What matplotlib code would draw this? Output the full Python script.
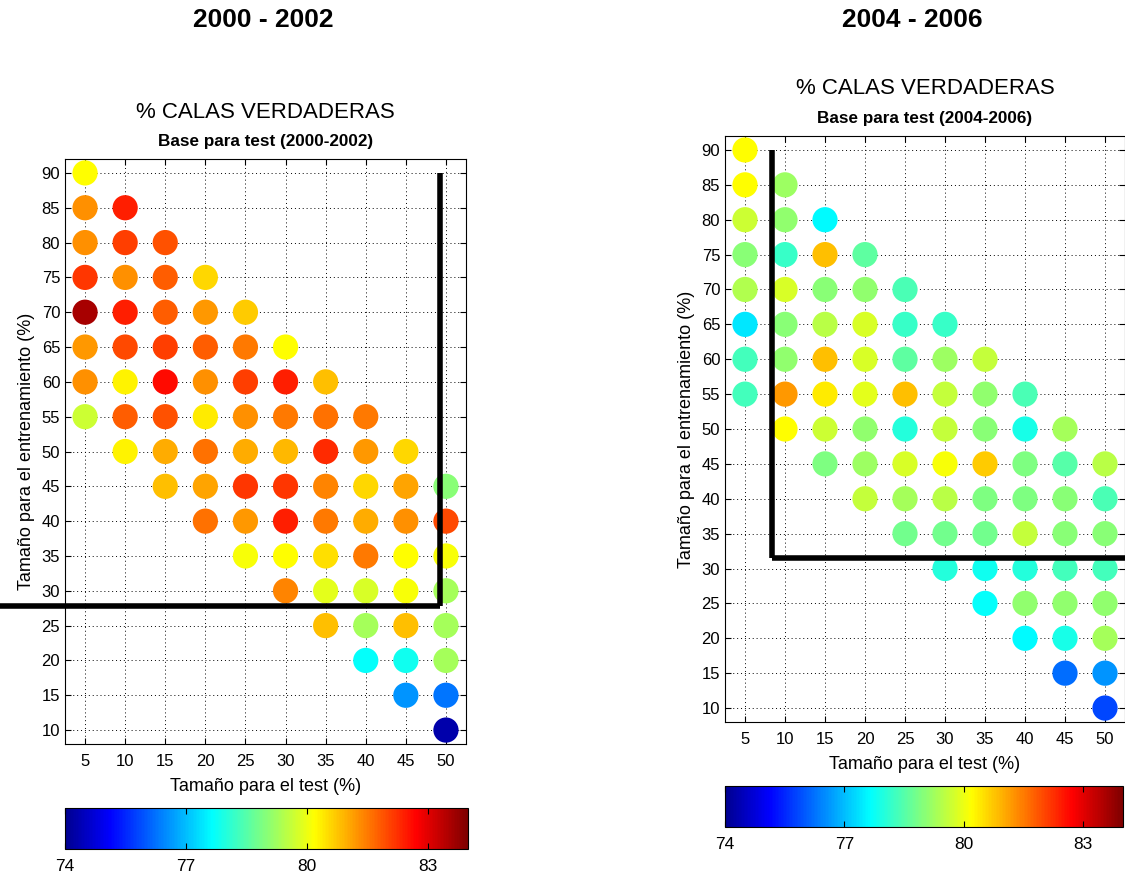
import numpy as np
import matplotlib
matplotlib.use("Agg")
import matplotlib.pyplot as plt
from matplotlib.cm import ScalarMappable
from matplotlib.colors import Normalize, LinearSegmentedColormap

plt.rcParams['font.family'] = ['Liberation Sans', 'DejaVu Sans']

# ---------------- data ----------------
test_sizes = [5, 10, 15, 20, 25, 30, 35, 40, 45, 50]
# top train size for each test-size column; each column holds 8 points spaced by 5
column_top_train = [90, 85, 80, 75, 70, 65, 60, 55, 50, 45]
y_ticks = [10, 15, 20, 25, 30, 35, 40, 45, 50, 55, 60, 65, 70, 75, 80, 85, 90]
cbar_ticks = [74, 77, 80, 83]
vmin, vmax = 74, 84

# % true hauls, per column (test size), from top train size downwards
vals_2000 = [
    [80.2, 81.3, 81.3, 82.2, 83.6, 81.2, 81.3, 79.7],   # test 5
    [82.4, 82.1, 81.3, 82.4, 82.0, 80.3, 81.8, 80.3],   # test 10
    [81.9, 81.8, 81.8, 82.1, 82.6, 81.9, 81.0, 80.8],   # test 15
    [80.6, 81.2, 81.8, 81.3, 80.4, 81.6, 81.1, 81.6],   # test 20
    [80.7, 81.5, 82.1, 81.3, 81.0, 82.2, 81.2, 80.1],   # test 25
    [80.2, 82.4, 81.5, 80.9, 82.2, 82.4, 80.2, 81.4],   # test 30
    [80.8, 81.6, 82.3, 81.4, 81.5, 80.5, 79.9, 80.8],   # test 35
    [81.5, 81.2, 80.6, 81.0, 81.5, 79.8, 79.3, 77.7],   # test 40
    [80.6, 81.1, 81.3, 80.2, 80.1, 80.8, 77.8, 76.6],   # test 45
    [79.0, 82.0, 80.1, 79.3, 79.3, 79.3, 76.3, 74.3],   # test 50
]
vals_2004 = [
    [80.2, 80.2, 79.7, 79.0, 79.4, 77.4, 78.3, 78.3],   # test 5
    [79.2, 79.1, 78.2, 79.8, 79.0, 79.1, 81.2, 80.2],   # test 10
    [77.6, 80.8, 79.0, 79.5, 80.8, 80.4, 79.7, 78.9],   # test 15
    [78.6, 79.1, 79.8, 79.8, 79.9, 79.1, 79.2, 79.6],   # test 20
    [78.4, 78.2, 78.6, 80.8, 78.0, 79.8, 79.3, 78.8],   # test 25
    [78.2, 79.2, 79.6, 79.6, 80.1, 79.5, 78.8, 78.0],   # test 30
    [79.6, 79.1, 79.0, 80.7, 78.9, 78.8, 77.8, 77.7],   # test 35
    [78.4, 77.9, 78.9, 78.9, 79.6, 78.0, 79.1, 77.6],   # test 40
    [79.3, 78.5, 79.0, 79.0, 78.3, 79.1, 77.9, 76.2],   # test 45
    [79.5, 78.4, 79.0, 78.3, 79.1, 79.3, 76.6, 75.8],   # test 50
]


def matlab_jet(m=64):
    n = int(np.ceil(m / 4))
    u = np.concatenate([np.arange(1, n + 1) / n, np.ones(n - 1), np.arange(n, 0, -1) / n])
    g = int(np.ceil(n / 2)) - (1 if m % 4 == 1 else 0) + np.arange(1, len(u) + 1)
    r = g + n
    b = g - n
    J = np.zeros((m, 3))
    for idx, c in ((r, 0), (g, 1), (b, 2)):
        ok = (idx >= 1) & (idx <= m)
        J[idx[ok] - 1, c] = u[ok]
    return LinearSegmentedColormap.from_list('matlab_jet', J, N=256)


# ---------------- figure ----------------
W, H = 1125, 874
fig = plt.figure(figsize=(W / 100, H / 100), dpi=100)
norm = Normalize(vmin=vmin, vmax=vmax)
cmap = matlab_jet(64)


def px_axes(l, t, r, b):
    return fig.add_axes([l / W, 1 - b / H, (r - l) / W, (b - t) / H])


def panel(ax, vals, base_label, vline, hline):
    xs, ys, cs = [], [], []
    for tsize, top, col in zip(test_sizes, column_top_train, vals):
        for k, v in enumerate(col):
            xs.append(tsize)
            ys.append(top - 5 * k)
            cs.append(v)
    ax.scatter(xs, ys, c=cs, cmap=cmap, norm=norm, s=330, edgecolors='none', zorder=3)
    ax.set_xlim(2.5, 52.5)
    ax.set_ylim(8, 92)
    ax.set_xticks(test_sizes)
    ax.set_yticks(y_ticks)
    ax.grid(True, linestyle=(0, (1, 3)), color='black', linewidth=0.7)
    ax.set_axisbelow(True)
    ax.tick_params(direction='in', top=True, right=True, labelsize=12, length=4)
    ax.tick_params(axis='x', pad=7)
    ax.set_xlabel('Tamaño para el test (%)', fontsize=13, labelpad=7)
    ax.set_ylabel('Tamaño para el entrenamiento (%)', fontsize=13, labelpad=5)
    hpx = ax.get_position().height * H
    ax.text(0.5, 1 + 47 / hpx, '% CALAS VERDADERAS', transform=ax.transAxes,
            ha='center', va='center', fontsize=16)
    ax.text(0.5, 1 + 18 / hpx, base_label, transform=ax.transAxes,
            ha='center', va='center', fontsize=12.3, fontweight='bold')
    ax.plot(*vline, color='black', lw=4, zorder=4, clip_on=False, solid_capstyle='butt')
    ax.plot(*hline, color='black', lw=4, zorder=4, clip_on=False, solid_capstyle='butt')


def cbar(cax):
    cb = fig.colorbar(ScalarMappable(norm=norm, cmap=cmap), cax=cax, orientation='horizontal')
    cb.set_ticks(cbar_ticks)
    cb.ax.tick_params(direction='in', top=True, bottom=True, labelsize=12.5, length=4, pad=7)
    cb.outline.set_linewidth(0.8)


ax1 = px_axes(65, 159, 466, 744)
panel(ax1, vals_2000, 'Base para test (2000-2002)',
      ([49.2, 49.2], [27.8, 90]), ([-6, 49.2], [27.8, 27.8]))
ax2 = px_axes(725, 136, 1125, 722)
panel(ax2, vals_2004, 'Base para test (2004-2006)',
      ([8.4, 8.4], [31.5, 90]), ([8.4, 56], [31.5, 31.5]))

cbar(px_axes(65, 808, 468, 849))
cbar(px_axes(725, 786, 1123, 827))

fig.text(263 / W, 1 - 20 / H, '2000 - 2002', ha='center', va='center', fontsize=19, fontweight='bold')
fig.text(912 / W, 1 - 20 / H, '2004 - 2006', ha='center', va='center', fontsize=19, fontweight='bold')

fig.savefig('out.png', dpi=100)
